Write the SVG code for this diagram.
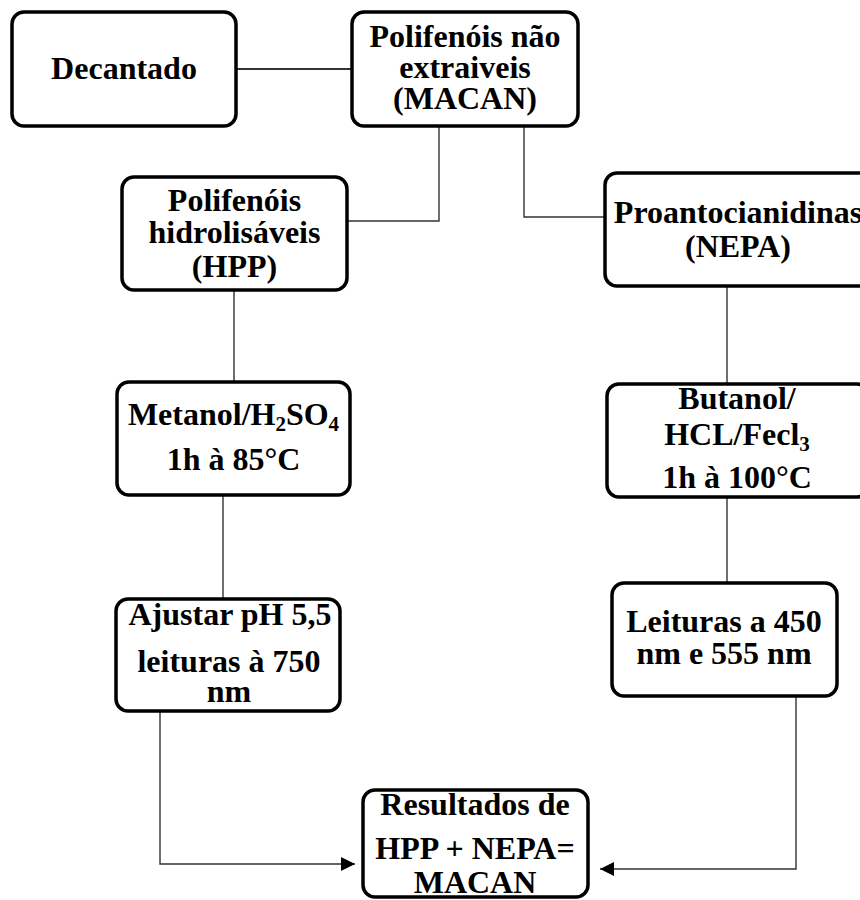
<svg xmlns="http://www.w3.org/2000/svg" width="860" height="900" viewBox="0 0 860 900">
<style>
.box{fill:#fff;stroke:#000;stroke-width:3.5}
.t{font-family:"Liberation Serif","Times New Roman",serif;font-weight:bold;font-size:32px;text-anchor:middle;fill:#000}
.sub{font-size:21px}
.c{fill:none;stroke:#333;stroke-width:1.4}
</style>
<defs>
<marker id="ah" markerUnits="userSpaceOnUse" markerWidth="16" markerHeight="16" refX="14" refY="7" orient="auto">
<path d="M0,0 L14,7 L0,14 Z" fill="#000"/>
</marker>
</defs>
<rect width="860" height="900" fill="#fff"/>
<g id="connectors">
<path class="c" d="M236,69 H352" style="stroke-width:2.2"/>
<path class="c" d="M439,126 V221 H347"/>
<path class="c" d="M524,126 V217 H605"/>
<path class="c" d="M234,290 V382"/>
<path class="c" d="M727,286 V384"/>
<path class="c" d="M223,495 V599"/>
<path class="c" d="M727,497 V583"/>
<path class="c" d="M160,711 V864 H355" marker-end="url(#ah)"/>
<path class="c" d="M796,696 V869 H600" marker-end="url(#ah)"/>
</g>
<g id="decantado">
<rect class="box" x="12" y="12" width="224" height="114" rx="12"/>
<text class="t" x="124" y="79">Decantado</text>
</g>
<g id="macan">
<rect class="box" x="352" y="12" width="226" height="114" rx="12"/>
<text class="t" x="465" y="47">Polifenóis não</text>
<text class="t" x="465" y="78">extraiveis</text>
<text class="t" x="465" y="109">(MACAN)</text>
</g>
<g id="hpp">
<rect class="box" x="122" y="177" width="225" height="113" rx="12"/>
<text class="t" x="234.5" y="211">Polifenóis</text>
<text class="t" x="234.5" y="243">hidrolisáveis</text>
<text class="t" x="234.5" y="277">(HPP)</text>
</g>
<g id="nepa">
<rect class="box" x="605" y="173" width="266" height="113" rx="12"/>
<text class="t" x="738" y="223">Proantocianidinas</text>
<text class="t" x="738" y="257">(NEPA)</text>
</g>
<g id="metanol">
<rect class="box" x="117" y="382" width="233" height="113" rx="12"/>
<text class="t" x="233.5" y="425">Metanol/H<tspan class="sub" dy="6">2</tspan><tspan dy="-6">SO</tspan><tspan class="sub" dy="6">4</tspan></text>
<text class="t" x="233.5" y="470">1h à 85°C</text>
</g>
<g id="butanol">
<rect class="box" x="607" y="384" width="262" height="113" rx="12"/>
<text class="t" x="737" y="409">Butanol/</text>
<text class="t" x="737" y="445">HCL/Fecl<tspan class="sub" dy="6">3</tspan></text>
<text class="t" x="737" y="488">1h à 100°C</text>
</g>
<g id="ajustar">
<rect class="box" x="116" y="599" width="224" height="112" rx="12"/>
<text class="t" x="230" y="625">Ajustar pH 5,5</text>
<text class="t" x="229" y="672">leituras à 750</text>
<text class="t" x="229" y="702">nm</text>
</g>
<g id="leituras">
<rect class="box" x="612" y="583" width="225" height="113" rx="12"/>
<text class="t" x="724" y="632">Leituras a 450</text>
<text class="t" x="724" y="664">nm e 555 nm</text>
</g>
<g id="resultados">
<rect class="box" x="363" y="790" width="225" height="107" rx="12"/>
<text class="t" x="475" y="815">Resultados de</text>
<text class="t" x="475" y="859">HPP + NEPA=</text>
<text class="t" x="475" y="893">MACAN</text>
</g>
</svg>
